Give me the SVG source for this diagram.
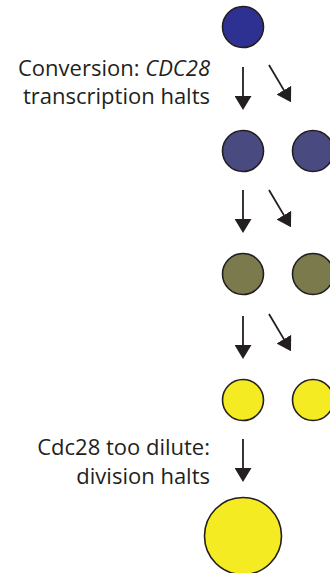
<svg xmlns="http://www.w3.org/2000/svg" width="330" height="573" viewBox="0 0 330 573">
<style>
.cell{stroke:#231f20;stroke-width:1.6}
.c1{fill:#2e3192}
.c2{fill:#484a80}
.c3{fill:#7a7a4c}
.c4{fill:#f5eb22}
.arr{stroke:#231f20;stroke-width:1.8;fill:none;marker-end:url(#ah)}
.lbl{font-family:"Open Sans","Liberation Sans",sans-serif;font-size:22px;fill:#231f20;text-anchor:end}
</style>
<defs>
<marker id="ah" viewBox="0 0 14 17" refX="5" refY="8.5" markerWidth="14" markerHeight="17" markerUnits="userSpaceOnUse" orient="auto">
<path d="M0,0 L14,8.5 L0,17 z" fill="#231f20"/>
</marker>
</defs>
<g id="cell-1"><circle class="cell c1" cx="243" cy="27" r="20.5"/></g>
<g id="cell-2a"><circle class="cell c2" cx="243" cy="151" r="20.5"/></g>
<g id="cell-2b"><circle class="cell c2" cx="313" cy="151" r="20.5"/></g>
<g id="cell-3a"><circle class="cell c3" cx="243" cy="274" r="20.5"/></g>
<g id="cell-3b"><circle class="cell c3" cx="313" cy="274" r="20.5"/></g>
<g id="cell-4a"><circle class="cell c4" cx="243" cy="400" r="20.5"/></g>
<g id="cell-4b"><circle class="cell c4" cx="313" cy="400" r="20.5"/></g>
<g id="cell-5"><circle class="cell c4" cx="243" cy="536" r="38.5"/></g>
<g id="label-conversion">
<text class="lbl" x="210" y="76">Conversion: <tspan font-style="italic">CDC28</tspan></text>
<text class="lbl" x="210" y="104">transcription halts</text>
</g>
<g id="label-dilute">
<text class="lbl" x="210" y="455">Cdc28 too dilute:</text>
<text class="lbl" x="210" y="484">division halts</text>
</g>
<g id="connectors">
<line class="arr" x1="243" y1="67" x2="243" y2="101"/>
<line class="arr" x1="269" y1="65" x2="286.4" y2="94.4"/>
<line class="arr" x1="243" y1="190" x2="243" y2="224"/>
<line class="arr" x1="269" y1="190" x2="286.4" y2="219.4"/>
<line class="arr" x1="243" y1="316" x2="243" y2="350"/>
<line class="arr" x1="269" y1="314" x2="286.4" y2="343.4"/>
<line class="arr" x1="243" y1="439" x2="243" y2="473"/>
</g>
</svg>
